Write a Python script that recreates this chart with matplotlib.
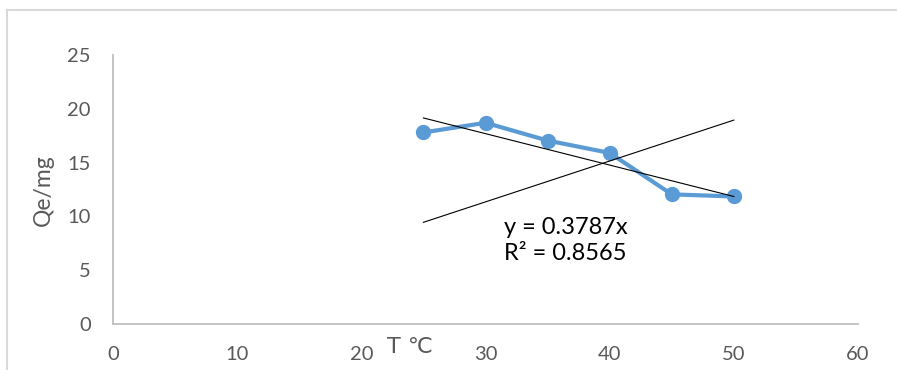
import matplotlib
matplotlib.use('Agg')
import matplotlib.pyplot as plt
from matplotlib.lines import Line2D

# data
temps = [25, 30, 35, 40, 45, 50]
qe = [17.8, 18.7, 17.05, 15.9, 12.05, 11.85]

# trend lines (end points)
trend_down_x = [25, 50]
trend_down_y = [19.15, 11.85]
trend_up_x = [25, 50]
trend_up_y = [9.45, 18.95]

x_ticks = [0, 10, 20, 30, 40, 50, 60]
y_ticks = [0, 5, 10, 15, 20, 25]
eq_text = "y = 0.3787x\nR² = 0.8565"

plt.rcParams['font.family'] = ['Lato', 'DejaVu Sans']

W, H = 897, 370
fig = plt.figure(figsize=(W / 100, H / 100), dpi=100)
ax = fig.add_axes([113 / W, 46 / H, 745 / W, 269 / H])

ax.plot(temps, qe, color='#5B9BD5', lw=3, marker='o', ms=10, zorder=3)
ax.plot(trend_down_x, trend_down_y, color='black', lw=0.8, zorder=4)
ax.plot(trend_up_x, trend_up_y, color='black', lw=0.8, zorder=4)

ax.set_xlim(0, 60)
ax.set_ylim(0, 25)
ax.set_xticks(x_ticks)
ax.set_yticks(y_ticks)
ax.tick_params(length=0, labelsize=14.5, labelcolor='#595959', pad=16)
for s in ['top', 'right']:
    ax.spines[s].set_visible(False)
for s in ['left', 'bottom']:
    ax.spines[s].set_color('#BFBFBF')
    ax.spines[s].set_linewidth(1.3)

ax.text(31.5, 7.8, eq_text, fontsize=17, color='black', va='center',
        ha='left', linespacing=1.3)

fig.text(43 / W, 1 - 190 / H, 'Qe/mg', rotation=90, fontsize=16.5,
         color='#595959', ha='center', va='center')
fig.text(410 / W, 1 - 347 / H, 'T ℃', fontsize=16, color='#595959',
         ha='center', va='center', family=['DejaVu Sans'])

# chart area border (top and left visible)
fig.add_artist(Line2D([7 / W, W / W], [1 - 10 / H, 1 - 10 / H],
                      color='#D9D9D9', lw=1.5))
fig.add_artist(Line2D([7 / W, 7 / W], [0, 1 - 10 / H],
                      color='#D9D9D9', lw=1.5))

fig.savefig('out.png', dpi=100, facecolor='white')
